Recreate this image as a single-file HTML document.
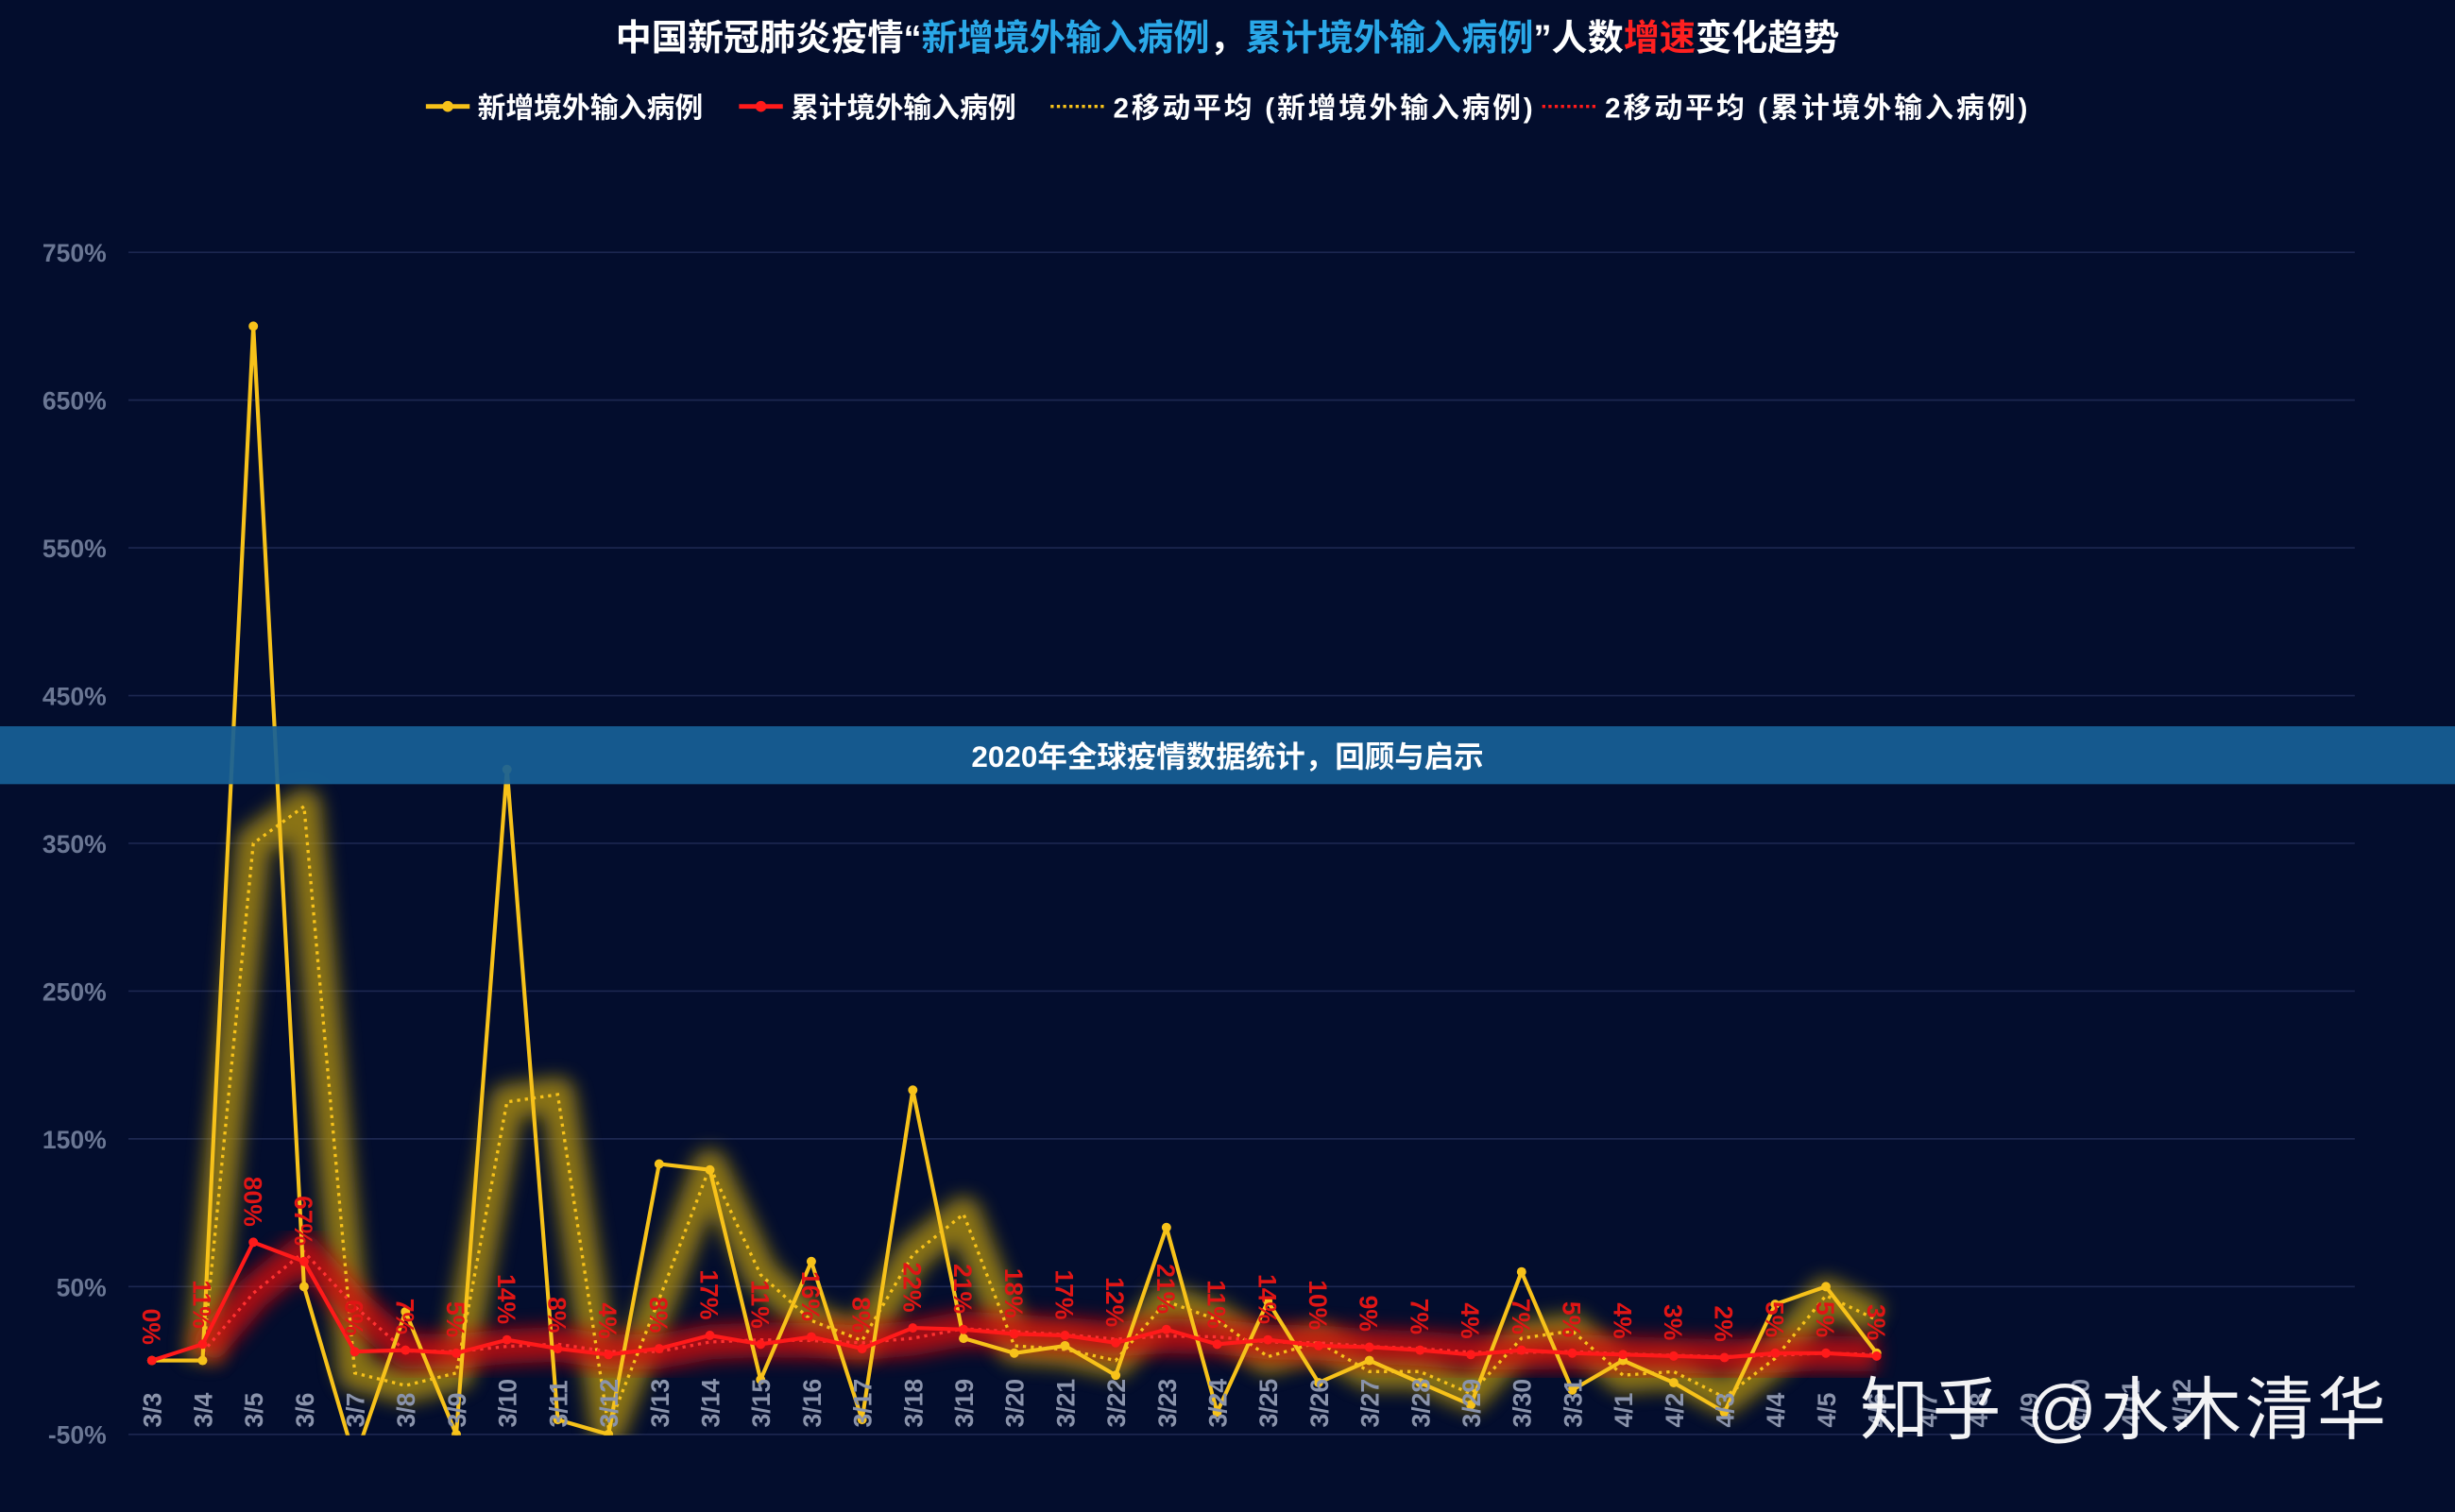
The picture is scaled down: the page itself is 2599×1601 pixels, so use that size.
<!DOCTYPE html>
<html><head><meta charset="utf-8"><style>
html,body{margin:0;padding:0;background:#030d2d;}
svg{display:block;}
text{font-family:"Liberation Sans","Noto Sans CJK SC",sans-serif;}
</style></head><body>
<svg id="s" width="2599" height="1601" viewBox="0 0 1568 966" preserveAspectRatio="none" xmlns="http://www.w3.org/2000/svg">
<defs>
<filter id="b" x="-20%" y="-20%" width="140%" height="140%"><feGaussianBlur stdDeviation="6"/></filter>
<clipPath id="c"><rect x="0" y="0" width="1568" height="917"/></clipPath>
</defs>
<rect width="1568" height="966" fill="#030d2d"/>
<text x="784" y="32" text-anchor="middle" font-size="23" font-weight="bold" fill="#fff">中国新冠肺炎疫情“<tspan fill="#2aa8e8">新增境外输入病例</tspan>，<tspan fill="#2aa8e8">累计境外输入病例</tspan>”人数<tspan fill="#ff2020">增速</tspan>变化趋势</text>
<g font-size="18" font-weight="bold" fill="#fff">
<line x1="272" y1="68" x2="300" y2="68" stroke="#f7c21a" stroke-width="3"/><circle cx="286" cy="68" r="3.5" fill="#f7c21a"/>
<text x="305" y="75">新增境外输入病例</text>
<line x1="472" y1="68" x2="500" y2="68" stroke="#ff1a1a" stroke-width="3"/><circle cx="486" cy="68" r="3.5" fill="#ff1a1a"/>
<text x="505" y="75">累计境外输入病例</text>
<line x1="671" y1="68" x2="705" y2="68" stroke="#f7c21a" stroke-width="2" stroke-dasharray="2,2"/>
<text x="711" y="75" textLength="268">2移动平均 (新增境外输入病例)</text>
<line x1="985" y1="68" x2="1019" y2="68" stroke="#ff1a1a" stroke-width="2" stroke-dasharray="2,2"/>
<text x="1025" y="75" textLength="270">2移动平均 (累计境外输入病例)</text>
</g>
<g id="grid"></g>
<g id="plot"></g>
<rect x="0" y="464" width="1568" height="37" fill="#176096" opacity="0.93"/>
<text x="784" y="490" text-anchor="middle" font-size="19" font-weight="bold" fill="#fff">2020年全球疫情数据统计，回顾与启示</text>
<text x="1188" y="916" font-size="44" fill="#fff" opacity="0.95" textLength="336">知乎 @水木清华</text>
</svg>
<script>
var NS="http://www.w3.org/2000/svg";
function el(n,a,p,t){var e=document.createElementNS(NS,n);for(var k in a)e.setAttribute(k,a[k]);if(t!=null)e.textContent=t;p.appendChild(e);return e;}
var grid=document.getElementById("grid"),plot=document.getElementById("plot");
function Y(v){return 869.2-0.944*v;}
function X(i){return 97+32.4*i;}
var ticks=[750,650,550,450,350,250,150,50,-50];
ticks.forEach(function(v){var y=Y(v);el("line",{x1:82,x2:1504,y1:y,y2:y,stroke:"#1c2750","stroke-width":1},grid);
el("text",{x:68,y:y+6,"text-anchor":"end","font-size":16,"font-weight":"bold",fill:"#6b7794"},grid,v+"%");});
var dates=["3/3","3/4","3/5","3/6","3/7","3/8","3/9","3/10","3/11","3/12","3/13","3/14","3/15","3/16","3/17","3/18","3/19","3/20","3/21","3/22","3/23","3/24","3/25","3/26","3/27","3/28","3/29","3/30","3/31","4/1","4/2","4/3","4/4","4/5","4/6","4/7","4/8","4/9","4/10","4/11","4/12"];
var nw=[0,0,700,50,-67,33,-50,400,-40,-50,133,129,-13,67,-40,183,15,5,10,-10,90,-35,40,-15,0,-15,-30,60,-20,0,-15,-35,38,50,5];
var cu=[0,11,80,67,6,7,5,14,8,4,8,17,11,16,8,22,21,18,17,12,21,11,14,10,9,7,4,7,5,4,3,2,5,5,3];
function ma(a){var r=[];for(var i=1;i<a.length;i++)r.push([i,(a[i]+a[i-1])/2]);return r;}
function pts(arr){return arr.map(function(p){return X(p[0]).toFixed(1)+","+Y(p[1]).toFixed(1);}).join(" ");}
var nwp=nw.map(function(v,i){return[i,v];}),cup=cu.map(function(v,i){return[i,v];});
var mn=ma(nw),mc=ma(cu);
var g=el("g",{"clip-path":"url(#c)"},plot);
el("polyline",{points:pts(mn),fill:"none",stroke:"#b8960a","stroke-width":22,opacity:0.75,filter:"url(#b)","stroke-linejoin":"round"},g);
el("polyline",{points:pts(mc),fill:"none",stroke:"#d01010","stroke-width":22,opacity:0.8,filter:"url(#b)","stroke-linejoin":"round"},g);
el("polyline",{points:pts(mn),fill:"none",stroke:"#f7c21a","stroke-width":2,"stroke-dasharray":"2,3"},g);
el("polyline",{points:pts(mc),fill:"none",stroke:"#ff3030","stroke-width":2,"stroke-dasharray":"2,3"},g);
dates.forEach(function(d,i){var x=X(i)+6,y=912;
el("text",{x:x,y:y,"font-size":16,"font-weight":"bold",fill:"#8a93ab",transform:"rotate(-90 "+x+" "+y+")"},plot,d);});
cu.forEach(function(v,i){var x=X(i)-6,y=Y(v)-10;
el("text",{x:x,y:y,"font-size":16,"font-weight":"bold",fill:"#e01515","text-anchor":"end",transform:"rotate(90 "+x+" "+y+")"},plot,v+"%");});
el("polyline",{points:pts(nwp),fill:"none",stroke:"#f7c21a","stroke-width":2.5,"stroke-linejoin":"round"},g);
el("polyline",{points:pts(cup),fill:"none",stroke:"#ff1a1a","stroke-width":2.5,"stroke-linejoin":"round"},g);
nwp.forEach(function(p){el("circle",{cx:X(p[0]),cy:Y(p[1]),r:3,fill:"#f7c21a"},g);});
cup.forEach(function(p){el("circle",{cx:X(p[0]),cy:Y(p[1]),r:3,fill:"#ff1a1a"},g);});
</script>
</body></html>
